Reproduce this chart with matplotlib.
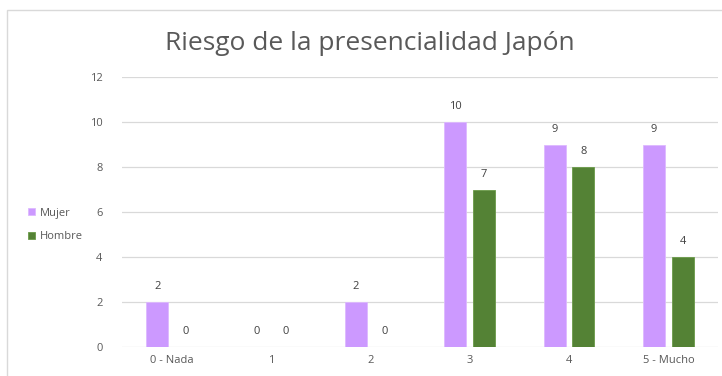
import numpy as np
import matplotlib.pyplot as plt
from matplotlib.patches import Rectangle

categories = ["0 - Nada", "1", "2", "3", "4", "5 - Mucho"]
mujer = [2, 0, 2, 10, 9, 9]
hombre = [0, 0, 0, 7, 8, 4]
yticks = [0, 2, 4, 6, 8, 10, 12]

plt.rcParams['font.family'] = ['Open Sans', 'DejaVu Sans']

fig = plt.figure(figsize=(7.22, 3.76), dpi=100)
ax = fig.add_axes([122 / 722, 1 - 347 / 376, 596 / 722, 270 / 376])

x = np.arange(len(categories))
w = 0.22
b1 = ax.bar(x - 0.145, mujer, w, color="#CC99FF", edgecolor="#DDB8FF", linewidth=0.6, label="Mujer")
b2 = ax.bar(x + 0.145, hombre, w, color="#548235", edgecolor="#6A9A48", linewidth=0.6, label="Hombre")

for bars, vals in [(b1, mujer), (b2, hombre)]:
    for r, v in zip(bars, vals):
        ax.annotate(str(v), (r.get_x() + r.get_width() / 2, v), xytext=(0, 11),
                    textcoords="offset points", ha="center", va="center",
                    fontsize=8, color="#404040")

ax.set_xlim(-0.5, len(categories) - 0.5)
ax.set_ylim(0, 12)
ax.set_yticks(yticks)
ax.set_xticks(x)
ax.set_xticklabels(categories)
ax.tick_params(axis="both", length=0, labelsize=8, labelcolor="#595959")
ax.tick_params(axis="y", pad=14)
ax.tick_params(axis="x", pad=6)
ax.grid(axis="y", color="#D9D9D9", linewidth=0.9)
ax.set_axisbelow(True)
for s in ax.spines.values():
    s.set_visible(False)

fig.text(0.5 + 9 / 722, 1 - 43 / 376, "Riesgo de la presencialidad Japón", ha="center", va="center",
         fontsize=19, color="#595959")

fig.legend(handles=[b1, b2], loc="center left", bbox_to_anchor=(18 / 722, 1 - 225 / 376),
           frameon=False, fontsize=8, labelcolor="#595959", handlelength=0.65,
           handleheight=0.65, handletextpad=0.4, labelspacing=1.15)

fig.patches.append(Rectangle((7 / 722, -0.1), 1.2, 1 - 10 / 376 + 0.1, transform=fig.transFigure,
                             fill=False, edgecolor="#D9D9D9", linewidth=1))

fig.savefig("out.png", dpi=100)
